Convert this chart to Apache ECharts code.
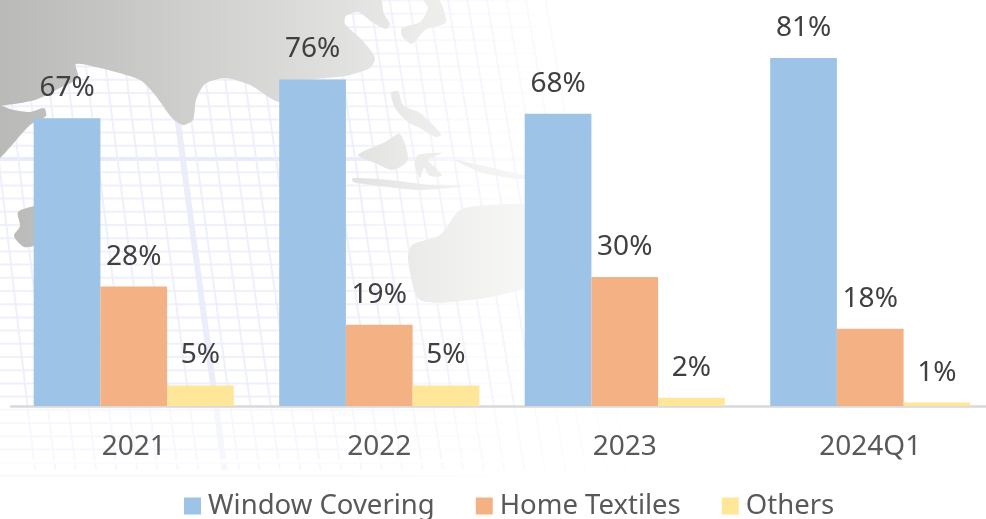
<!DOCTYPE html>
<html><head><meta charset="utf-8">
<style>html,body{margin:0;padding:0;background:#fff;overflow:hidden}#c{width:1000px;height:519px}</style>
<script src="https://cdn.jsdelivr.net/npm/echarts@6/dist/echarts.min.js"></script>
</head><body><div id="c"></div>
<script>
const categories = ['2021','2022','2023','2024Q1'];
const windowCovering = [67,76,68,81];
const homeTextiles = [27.8,18.9,30,18];
const others = [4.8,4.8,1.9,0.8];
const seriesNames = ['Window Covering','Home Textiles','Others'];
const seriesColors = ['#9dc3e6','#f4b183','#ffe699'];

// decorative backdrop (world map and graticule)
const landMain = [[-5,-5],[378,-5],[384,14],[390,24],[386,29],[372,22],[358,12],[346,16],[345,24],[362,40],[375,58],[370,68],[345,76],[300,82],[280,102],[250,85],[225,78],[205,84],[196,100],[193,120],[183,125],[172,118],[155,95],[140,80],[100,68],[76,64],[78,78],[60,88],[35,100],[0,106],[-5,106]];
const landPeninsula = [[-5,106],[14,110],[30,112],[44,108],[46,116],[30,125],[12,145],[0,158],[-5,160]];
const landIsle = [[34,206],[18,212],[20,226],[14,236],[24,247],[36,244],[36,206]];
const landPieces = [
 [[402,28],[420,22],[428,8],[420,-5],[436,-5],[446,22],[425,30],[412,44],[402,36]],
 [[391,93],[398,91],[403,105],[420,113],[436,128],[441,135],[436,137],[420,128],[408,122],[395,108]],
 [[358,155],[385,142],[400,134],[408,160],[393,170],[375,163]],
 [[418,155],[442,153],[428,160],[436,168],[442,176],[430,176],[424,168],[420,178],[415,165]],
 [[353,178],[390,180],[430,185],[463,186],[420,190],[380,186],[353,182]],
 [[455,160],[480,165],[510,172],[545,180],[510,178],[480,172]],
 [[408,260],[412,245],[440,235],[460,210],[490,205],[530,205],[560,225],[560,270],[520,290],[470,300],[420,300]]
];
const land = [landMain, landPeninsula, landIsle].concat(landPieces);
const graphicEls = [];
const landFill = {type:'linear',x:0,y:0,x2:600,y2:0,global:true,colorStops:[{offset:0,color:'#b9b9b7'},{offset:.58,color:'#e1e1e0'},{offset:.7,color:'#ececeb'},{offset:.88,color:'#f7f7f6'},{offset:1,color:'#fdfdfc'}]};
function hStroke(c){return {type:'linear',x:0,y:0,x2:620,y2:0,global:true,colorStops:[{offset:0,color:c},{offset:.55,color:c},{offset:1,color:'rgba(255,255,255,0)'}]};}
function fade(x){return Math.max(0,Math.min(1,(620-x)/300));}
for(let y=0.6;y<480;y+=13.2){
  const major=Math.abs(y-159)<2;
  graphicEls.push({type:'line',z:-10,silent:true,shape:{x1:0,y1:y,x2:640,y2:y},style:{stroke:hStroke(major?'#e8ebf9':'#eff0fb'),lineWidth:major?4:2}});
}
for(let i=0;i<30;i++){
  const major=i===9, x0=-20+i*19.5+(major?6:0);
  const a=(major?.85:.9)*fade(x0);
  if(a<=0)continue;
  graphicEls.push({type:'line',z:-10,silent:true,shape:{x1:x0,y1:0,x2:x0+55+i*0.9,y2:470},style:{stroke:major?'#e8ebf9':'#eceefb',lineWidth:major?6:2,opacity:a}});
}
graphicEls.push({type:'rect',z:-9,silent:true,shape:{x:0,y:408,width:1000,height:120},style:{fill:'rgba(255,255,255,.5)'}});
graphicEls.push({type:'rect',z:-9,silent:true,shape:{x:0,y:459,width:1000,height:4},style:{fill:'#fff',opacity:.8}});
land.forEach(p=>graphicEls.push({type:'polygon',z:-8,silent:true,shape:{points:p,smooth:.25},style:{fill:landFill}}));

const labelFont = '"Noto Sans"';
const chart = echarts.init(document.getElementById('c'),null,{renderer:'canvas'});
const mk=(name,data,color)=>({name,type:'bar',data,barWidth:66.7,barGap:0,
  itemStyle:{color},
  label:{show:true,position:'top',distance:16,fontFamily:labelFont,fontSize:28,color:'#404040',
    formatter:p=>Math.round(p.value)+'%'}});
chart.setOption({
  animation:false,
  backgroundColor:'#fff',
  graphic:{elements:graphicEls},
  grid:{left:11,top:58,width:982,height:348},
  legend:{left:179,top:487,itemWidth:17,itemHeight:17,itemGap:41,icon:'rect',
    textStyle:{fontFamily:labelFont,fontSize:27.5,color:'#595959',padding:[0,0,0,2]},
    data:seriesNames},
  xAxis:{type:'category',data:categories,offset:1,
    axisTick:{show:false},
    axisLine:{lineStyle:{color:'#d9d9d9',width:2.5}},
    axisLabel:{margin:26,fontFamily:labelFont,fontSize:28,color:'#595959'}},
  yAxis:{type:'value',min:0,max:81,interval:81,show:false,splitLine:{show:false}},
  series:[mk(seriesNames[0],windowCovering,seriesColors[0]),
          mk(seriesNames[1],homeTextiles,seriesColors[1]),
          mk(seriesNames[2],others,seriesColors[2])]
});
</script></body></html>
